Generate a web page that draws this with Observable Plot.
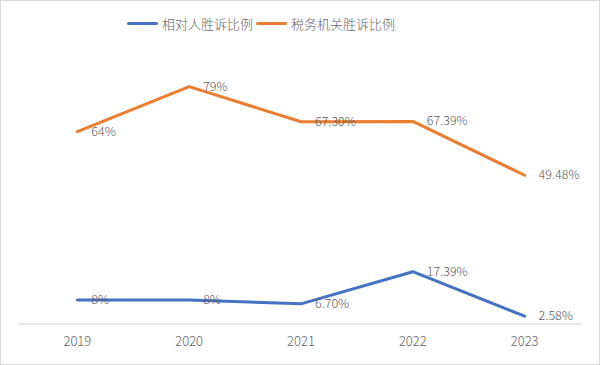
<!DOCTYPE html>
<html>
<head>
<meta charset="utf-8">
<script src="https://cdn.jsdelivr.net/npm/d3@7"></script>
<script src="https://cdn.jsdelivr.net/npm/@observablehq/plot@0.6"></script>
<style>
  html, body { margin: 0; padding: 0; background: #fff; }
  #wrap { position: relative; width: 600px; height: 365px; box-sizing: border-box; border: 1px solid #d9d9d9; overflow: hidden; font-family: "Noto Sans CJK SC", "Noto Sans", sans-serif; }
  #chart { position: absolute; left: -1px; top: -1px; }
  #legend { position: absolute; top: 13px; left: 126px; display: flex; align-items: center; font-size: 13px; color: #666; gap: 3px; font-weight: 300; }
  .item { display: flex; align-items: center; }
  .swatch { display: inline-block; width: 31px; height: 3px; border-radius: 2px; margin-right: 4px; }
</style>
</head>
<body>
<div id="wrap">
  <div id="chart"></div>
  <div id="legend"></div>
</div>
<script>
const years = ["2019", "2020", "2021", "2022", "2023"];
const seriesNames = ["相对人胜诉比例", "税务机关胜诉比例"];
const seriesColors = ["#4472C4", "#ED7D31"];
const respondentRate = [8, 8, 6.70, 17.39, 2.58];
const respondentLabels = ["8%", "8%", "6.70%", "17.39%", "2.58%"];
const taxRate = [64, 79, 67.30, 67.39, 49.48];
const taxLabels = ["64%", "79%", "67.30%", "67.39%", "49.48%"];

const rows = [];
years.forEach((y, i) => {
  rows.push({year: y, series: seriesNames[0], value: respondentRate[i], label: respondentLabels[i]});
  rows.push({year: y, series: seriesNames[1], value: taxRate[i], label: taxLabels[i]});
});

const chart = Plot.plot({
  width: 600,
  height: 365,
  marginTop: 23,
  marginBottom: 41,
  marginLeft: 19,
  marginRight: 18,
  style: {fontFamily: '"Noto Sans CJK SC", "Noto Sans", sans-serif', background: "transparent"},
  x: {type: "band", domain: years, padding: 0, label: null},
  y: {domain: [0, 100], axis: null},
  color: {domain: seriesNames, range: seriesColors},
  marks: [
    Plot.ruleY([0], {stroke: "#d9d9d9", strokeWidth: 1.3}),
    Plot.axisX({tickSize: 0, tickPadding: 13, fontSize: 13, fill: "#666", fontWeight: 300, label: null}),
    Plot.line(rows, {x: "year", y: "value", z: "series", stroke: "series", strokeWidth: 3, strokeLinejoin: "round", strokeLinecap: "round"}),
    Plot.text(rows, {x: "year", y: "value", text: "label", textAnchor: "start", dx: 14, fontSize: 12.5, fill: "#595959", fontWeight: 300})
  ]
});
document.getElementById("chart").appendChild(chart);

const legend = document.getElementById("legend");
seriesNames.forEach((name, i) => {
  const item = document.createElement("div");
  item.className = "item";
  const sw = document.createElement("span");
  sw.className = "swatch";
  sw.style.background = seriesColors[i];
  item.appendChild(sw);
  const t = document.createElement("span");
  t.textContent = name;
  item.appendChild(t);
  legend.appendChild(item);
});
</script>
</body>
</html>
